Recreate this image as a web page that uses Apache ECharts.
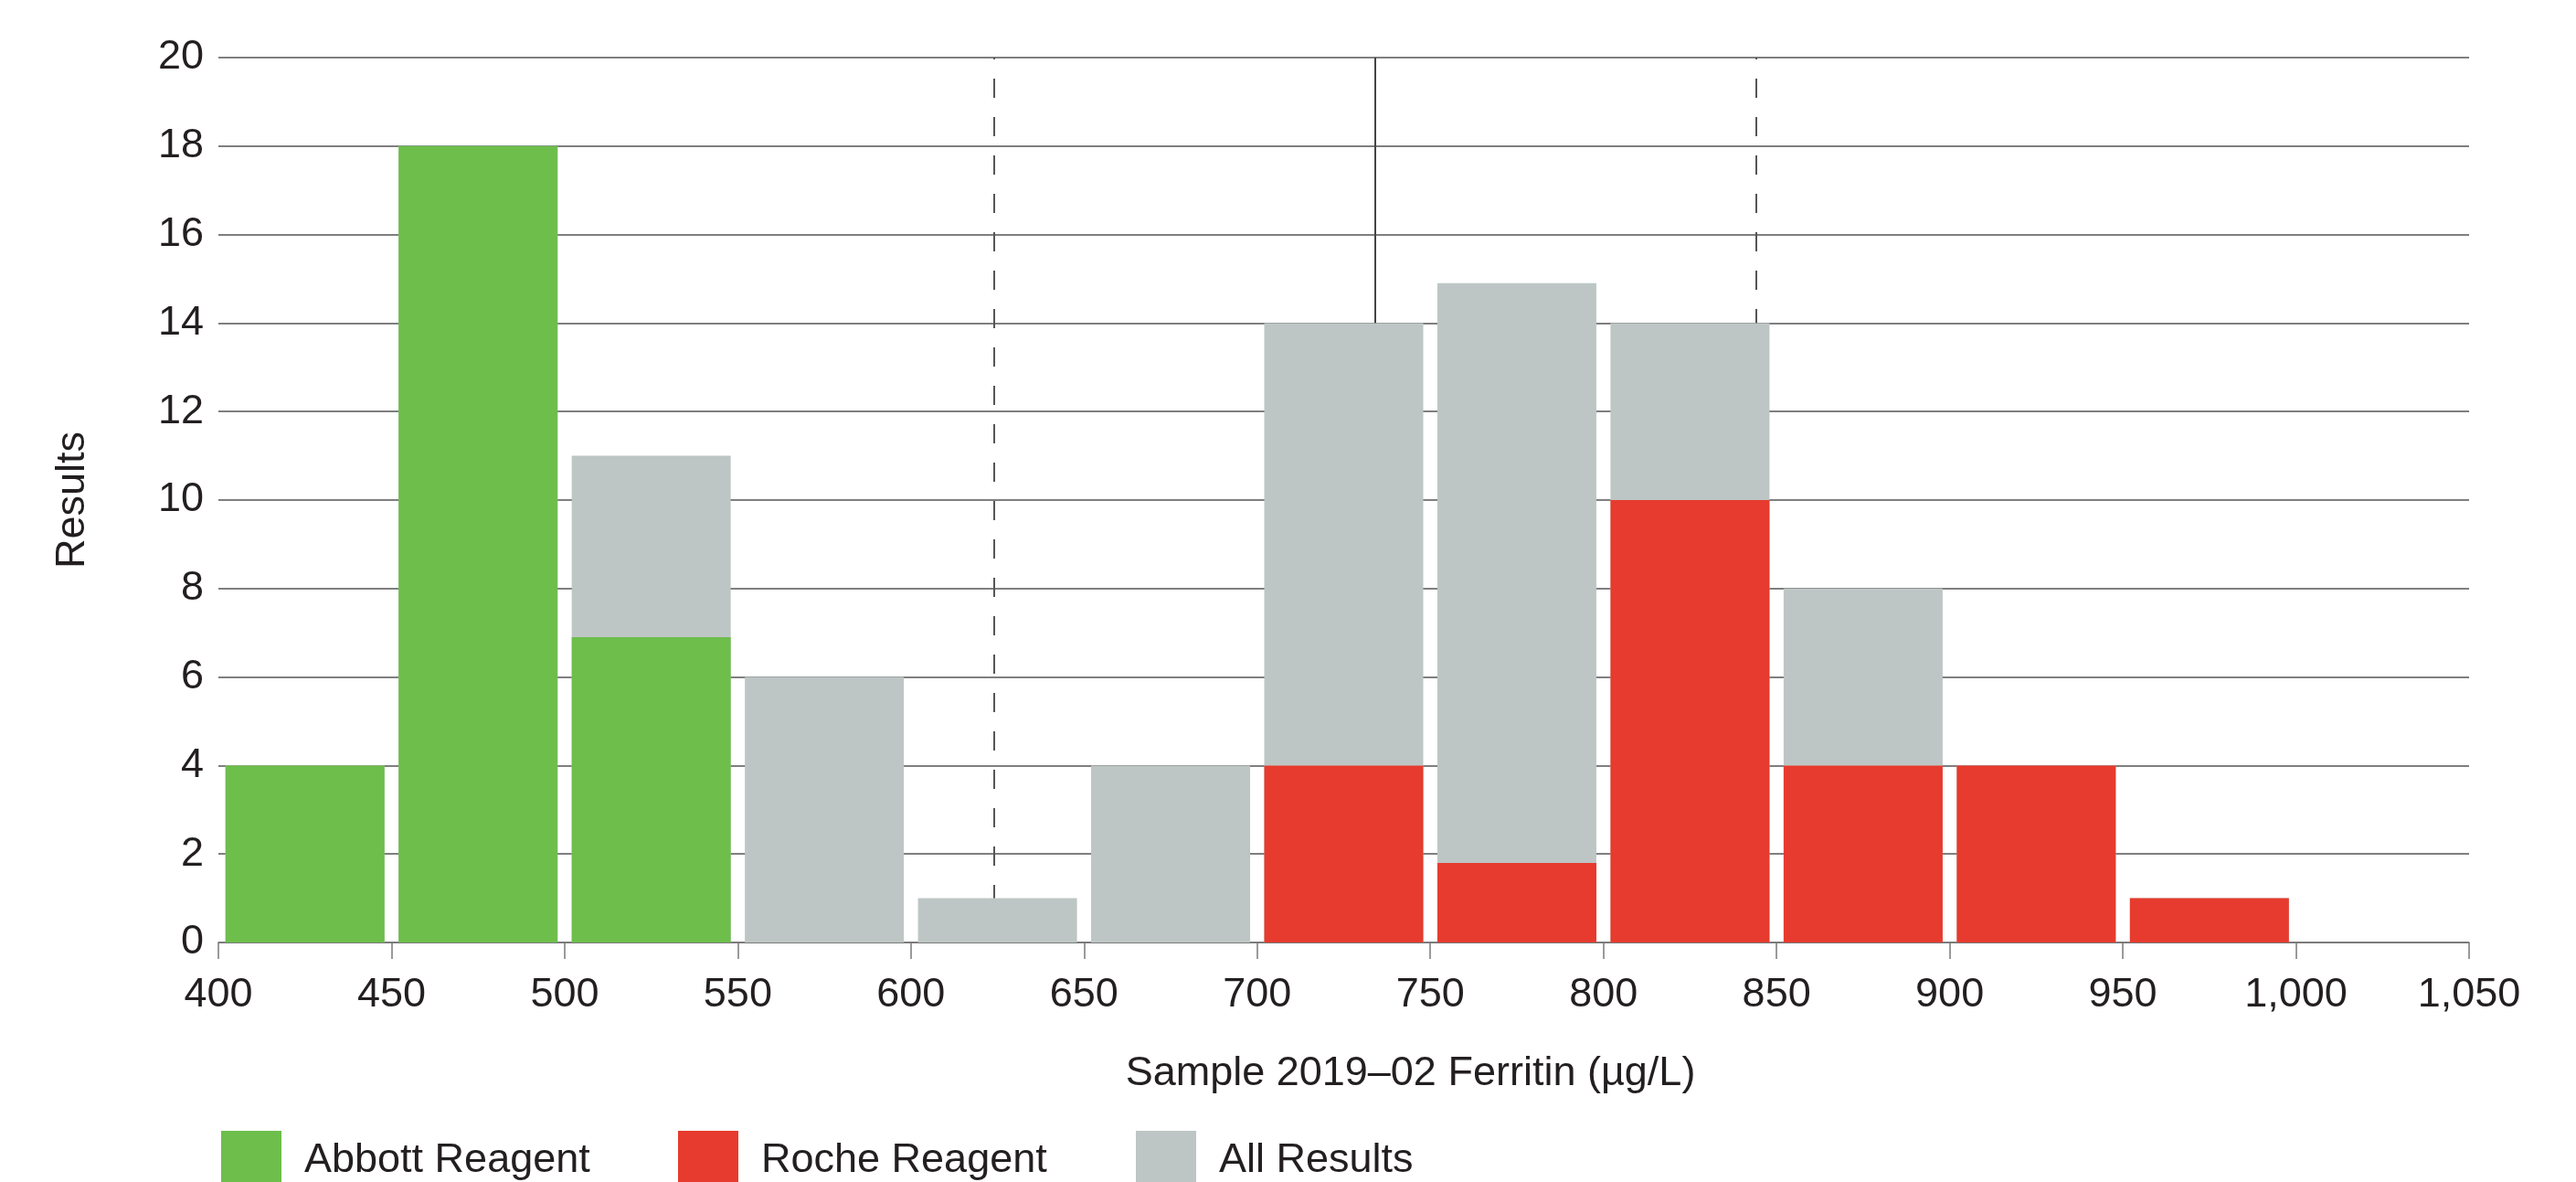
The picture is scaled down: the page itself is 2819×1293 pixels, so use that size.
<!DOCTYPE html>
<html>
<head>
<meta charset="utf-8">
<style>
  html, body { margin: 0; padding: 0; background: #ffffff; }
  #chart { width: 2819px; height: 1293px; }
</style>
<script src="https://cdn.jsdelivr.net/npm/echarts@6/dist/echarts.min.js"></script>
</head>
<body>
<div id="chart"></div>
<script>
// ---- data ----
const binCenters   = [425, 475, 525, 575, 625, 675, 725, 775, 825, 875, 925, 975];
const allResults   = [4, 18, 11, 6, 1, 4, 14, 14.9, 14, 8, 4, 1];
const abbott       = [4, 18, 6.9, null, null, null, null, null, null, null, null, null];
const roche        = [null, null, null, null, null, null, 4, 1.8, 10, 4, 4, 1];
const meanValue    = 734;
const limitLow     = 624;
const limitHigh    = 844;
const xTicks       = { min: 400, max: 1050, interval: 50 };
const yTicks       = { min: 0, max: 20, interval: 2 };
const seriesNames  = ['Abbott Reagent', 'Roche Reagent', 'All Results'];
const xAxisTitle   = 'Sample 2019\u201302 Ferritin (\u00B5g/L)';
const yAxisTitle   = 'Results';

const FONT = "'Liberation Sans', Arial, sans-serif";
const TXT = '#231f20';
const COLORS = { abbott: '#6DBE4B', roche: '#E63B2E', all: '#BDC6C4' };

function pairs(arr) {
  const out = [];
  arr.forEach((v, i) => { if (v !== null) out.push([binCenters[i], v]); });
  return out;
}

const chart = echarts.init(document.getElementById('chart'), null, { renderer: 'canvas' });

function legendFor(name, left) {
  return {
    show: true,
    data: [name],
    left: left,
    top: 1237,
    orient: 'horizontal',
    icon: 'rect',
    itemWidth: 66,
    itemHeight: 66,
    selectedMode: false,
    padding: 0,
    textStyle: { fontFamily: FONT, fontSize: 45, color: TXT, padding: [10, 0, 0, 20] }
  };
}

const option = {
  backgroundColor: '#ffffff',
  animation: false,
  textStyle: { fontFamily: FONT },
  grid: { left: 239, right: 117, top: 63, bottom: 262, containLabel: false },
  legend: [
    legendFor(seriesNames[0], 242),
    legendFor(seriesNames[1], 742),
    legendFor(seriesNames[2], 1243)
  ],
  xAxis: {
    type: 'value',
    min: xTicks.min, max: xTicks.max, interval: xTicks.interval,
    name: xAxisTitle,
    nameLocation: 'middle',
    nameGap: 121,
    nameTextStyle: { fontFamily: FONT, fontSize: 45, color: TXT, padding: [0, 0, 0, 146] },
    axisLine: { show: true, lineStyle: { color: '#7a7a7a', width: 1.5 } },
    axisTick: { show: true, length: 18, lineStyle: { color: '#7a7a7a', width: 1.5 } },
    axisLabel: {
      fontFamily: FONT, fontSize: 45, color: TXT, margin: 35,
      formatter: v => Number(v).toLocaleString('en-US')
    },
    splitLine: { show: false }
  },
  yAxis: {
    type: 'value',
    min: yTicks.min, max: yTicks.max, interval: yTicks.interval,
    name: yAxisTitle,
    nameLocation: 'middle',
    nameGap: 137,
    nameTextStyle: { fontFamily: FONT, fontSize: 45, color: TXT },
    axisLine: { show: false },
    axisTick: { show: false },
    axisLabel: { fontFamily: FONT, fontSize: 45, color: TXT, margin: 16, padding: [8, 0, 0, 0] },
    splitLine: { show: true, lineStyle: { color: '#555555', width: 1.5 } }
  },
  series: [
    {
      name: seriesNames[0], type: 'bar', data: pairs(abbott),
      barWidth: 174, barGap: '-100%', z: 3,
      itemStyle: { color: COLORS.abbott }
    },
    {
      name: seriesNames[1], type: 'bar', data: pairs(roche),
      barWidth: 174, barGap: '-100%', z: 3,
      itemStyle: { color: COLORS.roche }
    },
    {
      name: seriesNames[2], type: 'bar', data: pairs(allResults),
      barWidth: 174, barGap: '-100%', z: 2,
      itemStyle: { color: COLORS.all },
      markLine: {
        silent: true, z: 1, symbol: 'none', animation: false,
        label: { show: false },
        data: [
          [{ coord: [meanValue, yTicks.min] }, { coord: [meanValue, yTicks.max], lineStyle: { color: '#444444', width: 2, type: 'solid' } }],
          [{ coord: [limitLow, yTicks.min] }, { coord: [limitLow, yTicks.max], lineStyle: { color: '#555555', width: 2, type: [21, 21] } }],
          [{ coord: [limitHigh, yTicks.min] }, { coord: [limitHigh, yTicks.max], lineStyle: { color: '#555555', width: 2, type: [21, 21] } }]
        ]
      }
    }
  ]
};

chart.setOption(option);
</script>
</body>
</html>
